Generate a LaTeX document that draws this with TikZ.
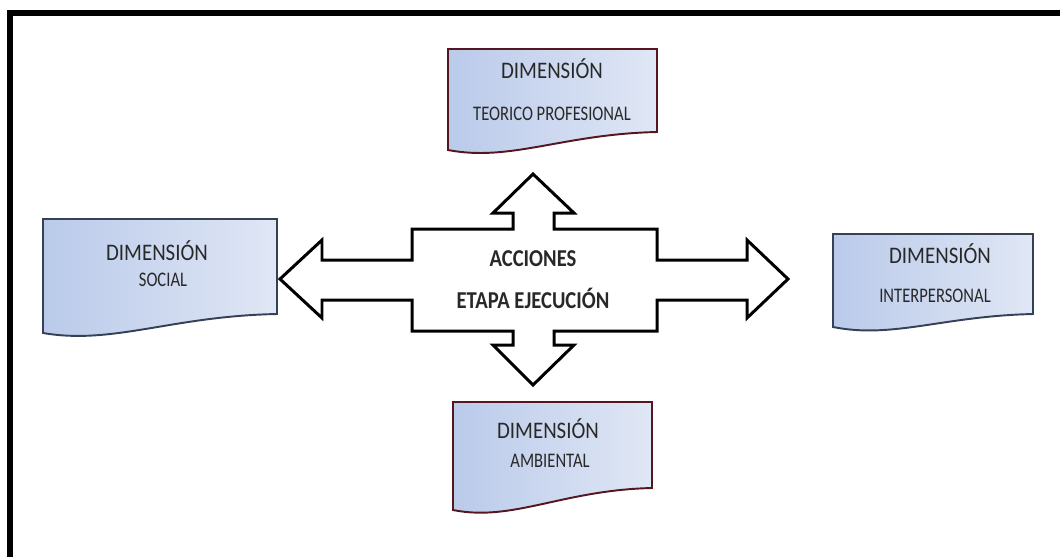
\documentclass[tikz,border=0pt]{standalone}
\usepackage{fontspec}
\setmainfont{Carlito}
\newfontfamily\titlefont[FakeStretch=0.88]{Carlito}
\newfontfamily\subfont[FakeStretch=0.80]{Carlito}
\newfontfamily\centerfont[FakeStretch=0.85]{Carlito}
\usepackage{xcolor}
\usetikzlibrary{positioning}
\definecolor{dimblue}{RGB}{186,202,234}
\definecolor{dimlight}{RGB}{224,231,245}
\definecolor{dimslate}{RGB}{55,65,85}
\definecolor{dimmaroon}{RGB}{85,22,32}
\definecolor{dimtext}{RGB}{40,40,40}

\begin{document}
\begin{tikzpicture}[
  x=0.02cm, y=-0.02cm,
  doc/.style={line width=1.1pt, left color=dimblue, right color=dimlight},
  dim title/.style={font=\titlefont\fontsize{13.5}{15}\selectfont, text=dimtext, inner sep=0pt, anchor=base},
  dim sub/.style={font=\subfont\fontsize{11.8}{13}\selectfont, text=dimtext, inner sep=0pt, anchor=base},
  center text/.style={font=\centerfont\bfseries\fontsize{13.8}{15}\selectfont, text=dimtext, inner sep=0pt, anchor=base},
  big arrow/.style={draw=black, line width=1.7pt, fill=white, line join=miter}
]
\useasboundingbox (0,0) rectangle (1060,556);
\draw[line width=3.4pt, line join=miter] (10,557) -- (10,13) -- (1061,13);
% document boxes: left/right x, top y, bottom y at left and right
\foreach \xa/\xb/\yt/\yl/\yr/\col in {43/277/219/333/314/dimslate,
    833/1033/234/327/314/dimslate, 448/657/49/150/132/dimmaroon,
    453/652/402/510/488/dimmaroon} {
  \path[doc, draw=\col] (\xa,\yt) -- (\xb,\yt) -- (\xb,\yr)
    .. controls ({\xa+0.55*(\xb-\xa)},{\yr+2}) and ({\xa+0.3*(\xb-\xa)},{\yl+12}) .. (\xa,\yl) -- cycle;
}
% the cross arrow
\draw[big arrow] (280,279) -- (322,240) -- (322,260) -- (412,260) -- (412,229)
  -- (513,229) -- (513,213) -- (493,213) -- (533,174) -- (574,213) -- (554,213)
  -- (554,229) -- (657,229) -- (657,260) -- (747,260) -- (747,240) -- (788,279)
  -- (747,318) -- (747,300) -- (657,300) -- (657,331) -- (554,331) -- (554,345)
  -- (574,345) -- (533,385) -- (493,345) -- (513,345) -- (513,331) -- (412,331)
  -- (412,300) -- (322,300) -- (322,318) -- cycle;
\node[center text] (acciones) at (533,266) {ACCIONES};
\node[center text] (etapa) at (533,308) {ETAPA EJECUCIÓN};
% labels
\node[dim title] (socialT) at (157,260) {DIMENSIÓN};
\node[dim sub] (social) at (163,286) {SOCIAL};
\node[dim title] (interT) at (940,263) {DIMENSIÓN};
\node[dim sub] (inter) at (935,302) {INTERPERSONAL};
\node[dim title] (teoT) at (552,78) {DIMENSIÓN};
\node[dim sub] (teo) at (552,120) {TEORICO PROFESIONAL};
\node[dim title] (ambT) at (548,438) {DIMENSIÓN};
\node[dim sub] (amb) at (550,467) {AMBIENTAL};
\end{tikzpicture}
\end{document}
